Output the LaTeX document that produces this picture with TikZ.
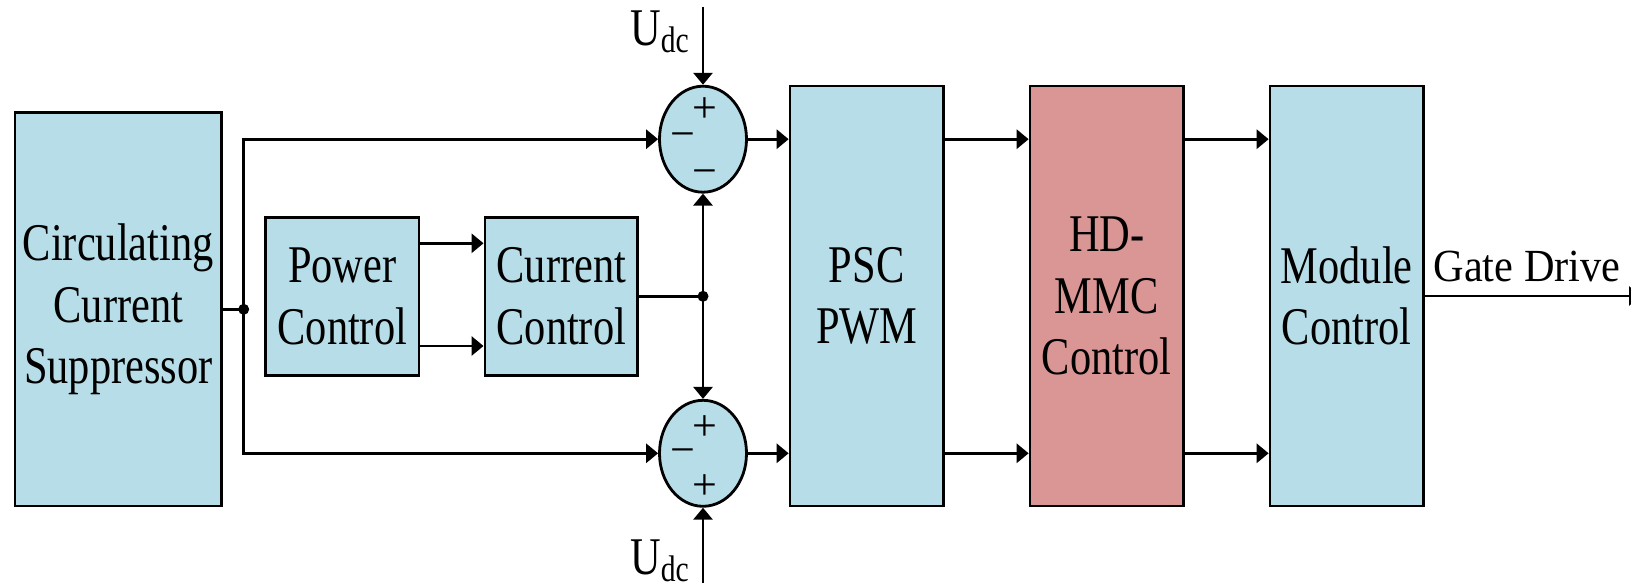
\documentclass[tikz,border=0pt]{standalone}
\usepackage{fontspec}
\setmainfont{Liberation Serif}[FakeStretch=0.8]
\newfontfamily\gdfont{Liberation Serif}[FakeStretch=0.92]
\newfontfamily\signfont{Liberation Serif}
\usetikzlibrary{arrows.meta,shapes.geometric}
\definecolor{boxblue}{HTML}{B7DEE8}
\definecolor{boxred}{HTML}{D99694}
\tikzset{
 blk/.style={draw=black, line width=2.8pt, fill=boxblue, inner sep=0pt, align=center, font=\fontsize{53}{61.5}\selectfont},
 sumj/.style={ellipse, draw=black, line width=2.8pt, fill=boxblue, inner sep=0pt, minimum width=87pt, minimum height=106pt},
 conn/.style={line width=2.9pt},
 arr/.style={conn, -{Triangle[length=12pt,width=19pt]}},
 sgn/.style={font=\signfont\fontsize{44}{44}\selectfont, inner sep=0pt},
 jdot/.style={circle, fill=black, inner sep=0pt, minimum size=11pt},
 lbl/.style={inner sep=0pt, font=\fontsize{53}{61.5}\selectfont},
}
\begin{document}
\begin{tikzpicture}[x=1pt,y=-1pt]
\useasboundingbox (0,0) rectangle (1631,588);
% blocks
\node[blk, minimum width=206.7pt, minimum height=393.3pt] (ccs) at (118.3,309.3) {Circulating\\Current\\Suppressor};
\node[blk, minimum width=153.3pt, minimum height=158pt] (pc) at (342.3,296.3) {Power\\Control};
\node[blk, minimum width=152.7pt, minimum height=158pt] (cc) at (561.3,296.3) {Current\\Control};
\node[blk, minimum width=153.3pt, minimum height=420pt] (psc) at (866.7,296) {PSC\\PWM};
\node[blk, fill=boxred, minimum width=153.3pt, minimum height=420pt] (hd) at (1106.7,296) {HD-\\MMC\\Control};
\node[blk, minimum width=153.3pt, minimum height=420pt] (mod) at (1346.7,296) {Module\\Control};
% summing junctions
\node[sumj] (s1) at (703,139.2) {};
\node[sumj] (s2) at (703,453.3) {};
\node[sgn] (s1p) at (705,110) {\vphantom{+}+};
\node[sgn] (s1m) at (683,136) {\vphantom{+}−};
\node[sgn] (s1b) at (705,173) {\vphantom{+}−};
\node[sgn] (s2p) at (705,427.7) {\vphantom{+}+};
\node[sgn] (s2m) at (683,451.7) {\vphantom{+}−};
\node[sgn] (s2b) at (705,486.7) {\vphantom{+}+};
% junction dots
\node[jdot] (j) at (243.7,309.3) {};
\node[jdot] (d2) at (703,296.3) {};
% helper coordinates
\coordinate (ya) at (0,243.3);
\coordinate (yb) at (0,346);
\coordinate (u1) at (703,7);
\coordinate (u2) at (703,583);
\coordinate (gd) at (1641,296);
% connectors
\draw[conn] (ccs.east) -- (j.center);
\draw[arr] (j.center) |- (s1.west);
\draw[arr] (j.center) |- (s2.west);
\draw[arr] (pc.east |- ya) -- (cc.west |- ya);
\draw[arr] (pc.east |- yb) -- (cc.west |- yb);
\draw[conn] (cc.east) -- (d2.center);
\draw[arr] (d2.center) -- (s1.south);
\draw[arr] (d2.center) -- (s2.north);
\draw[arr] (u1) -- (s1.north);
\draw[arr] (u2) -- (s2.south);
\draw[arr] (s1.east) -- (s1.east -| psc.west);
\draw[arr] (s2.east) -- (s2.east -| psc.west);
\draw[arr] (psc.east |- s1.east) -- (hd.west |- s1.east);
\draw[arr] (psc.east |- s2.east) -- (hd.west |- s2.east);
\draw[arr] (hd.east |- s1.east) -- (mod.west |- s1.east);
\draw[arr] (hd.east |- s2.east) -- (mod.west |- s2.east);
\draw[arr] (mod.east) -- (gd);
% labels
\node[lbl, anchor=base east] (ut) at (689,46) {U\raisebox{-7pt}{\fontsize{37}{37}\selectfont dc}};
\node[lbl, anchor=base east] (ub) at (689,574) {U\raisebox{-7pt}{\fontsize{37}{37}\selectfont dc}};
\node[inner sep=0pt, anchor=base, font=\gdfont\fontsize{46}{46}\selectfont] (gdl) at (1527,281.7) {Gate Drive};
\end{tikzpicture}
\end{document}
